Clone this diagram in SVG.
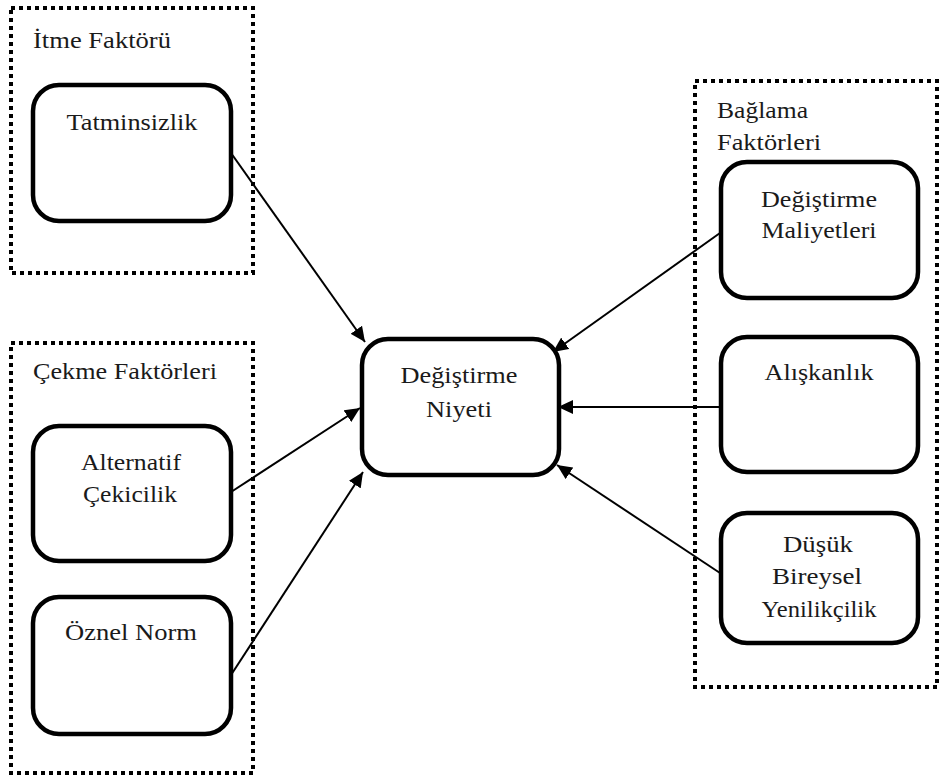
<svg xmlns="http://www.w3.org/2000/svg" width="940" height="778" viewBox="0 0 940 778" font-family="'Liberation Serif', 'Times New Roman', serif">
<defs>
<style>
.grp{fill:none;stroke:#000;stroke-width:4;stroke-dasharray:4 4}
.node{fill:#fff;stroke:#000;stroke-width:4.5}
text{font-family:'Liberation Serif','Times New Roman',serif;font-size:23px;fill:#1a1a1a}
.c{text-anchor:middle}
.edge{stroke:#000;stroke-width:2;fill:none;marker-end:url(#arr)}
</style>
<marker id="arr" markerUnits="userSpaceOnUse" markerWidth="16" markerHeight="14" refX="15" refY="7" orient="auto">
<path d="M0,0 L15,7 L0,14 z" fill="#000"/>
</marker>
</defs>
<rect width="940" height="778" fill="#fff"/>

<g id="group-itme">
<rect class="grp" x="11" y="8" width="242" height="265"/>
<text x="33" y="48" textLength="138" lengthAdjust="spacingAndGlyphs">İtme Faktörü</text>
</g>
<g id="group-cekme">
<rect class="grp" x="11" y="343" width="242" height="430"/>
<text x="33" y="379" textLength="184" lengthAdjust="spacingAndGlyphs">Çekme Faktörleri</text>
</g>
<g id="group-baglama">
<rect class="grp" x="695" y="81" width="242" height="606"/>
<text x="717" y="118" textLength="91" lengthAdjust="spacingAndGlyphs">Bağlama</text>
<text x="717" y="150" textLength="104" lengthAdjust="spacingAndGlyphs">Faktörleri</text>
</g>

<g id="edges">
<line class="edge" x1="231" y1="153" x2="365" y2="342"/>
<line class="edge" x1="231" y1="492" x2="360" y2="408"/>
<line class="edge" x1="231" y1="675" x2="363" y2="472"/>
<line class="edge" x1="720" y1="233" x2="553" y2="352"/>
<line class="edge" x1="720" y1="407" x2="558" y2="407"/>
<line class="edge" x1="720" y1="573" x2="557" y2="465"/>
</g>

<g id="node-tatminsizlik">
<rect class="node" x="33" y="85" width="198" height="136" rx="26"/>
<text class="c" x="132" y="130" textLength="131" lengthAdjust="spacingAndGlyphs">Tatminsizlik</text>
</g>
<g id="node-alternatif">
<rect class="node" x="33" y="426" width="198" height="135" rx="26"/>
<text class="c" x="131" y="470" textLength="100" lengthAdjust="spacingAndGlyphs">Alternatif</text>
<text class="c" x="130" y="502" textLength="94" lengthAdjust="spacingAndGlyphs">Çekicilik</text>
</g>
<g id="node-oznel">
<rect class="node" x="33" y="597" width="198" height="137" rx="26"/>
<text class="c" x="131" y="640" textLength="132" lengthAdjust="spacingAndGlyphs">Öznel Norm</text>
</g>
<g id="node-niyet">
<rect class="node" x="362" y="339" width="197" height="136" rx="26"/>
<text class="c" x="459" y="383" textLength="117" lengthAdjust="spacingAndGlyphs">Değiştirme</text>
<text class="c" x="459" y="417" textLength="66" lengthAdjust="spacingAndGlyphs">Niyeti</text>
</g>
<g id="node-maliyet">
<rect class="node" x="721" y="162" width="197" height="136" rx="26"/>
<text class="c" x="819" y="207" textLength="116" lengthAdjust="spacingAndGlyphs">Değiştirme</text>
<text class="c" x="819" y="238" textLength="115" lengthAdjust="spacingAndGlyphs">Maliyetleri</text>
</g>
<g id="node-aliskanlik">
<rect class="node" x="721" y="337" width="197" height="135" rx="26"/>
<text class="c" x="819" y="380" textLength="109" lengthAdjust="spacingAndGlyphs">Alışkanlık</text>
</g>
<g id="node-dusuk">
<rect class="node" x="721" y="513" width="197" height="130" rx="26"/>
<text class="c" x="818" y="552" textLength="70" lengthAdjust="spacingAndGlyphs">Düşük</text>
<text class="c" x="817" y="584" textLength="90" lengthAdjust="spacingAndGlyphs">Bireysel</text>
<text class="c" x="819" y="617" textLength="115" lengthAdjust="spacingAndGlyphs">Yenilikçilik</text>
</g>
</svg>
